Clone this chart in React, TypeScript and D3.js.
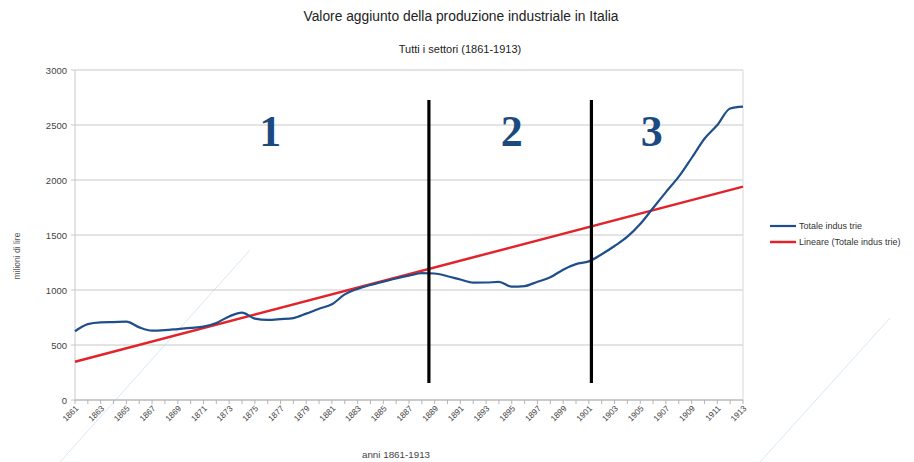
import React from "react";
import * as d3 from "d3";

const years: number[] = d3.range(1861, 1914);
const totale: number[] = [
  625, 690, 705, 708, 712, 660, 630, 635, 645, 655,
  667, 700, 760, 795, 740, 728, 735, 745, 785, 830,
  870, 960, 1010, 1045, 1076, 1105, 1130, 1153, 1150, 1125,
  1095, 1067, 1068, 1073, 1030, 1036, 1075, 1115, 1185, 1235,
  1260, 1325, 1400, 1485, 1600, 1745, 1890, 2030, 2200, 2375,
  2500, 2650, 2667,
];
const trendYears: number[] = [1861, 1913];
const trendValues: number[] = [348, 1940];
const yTicks: number[] = [0, 500, 1000, 1500, 2000, 2500, 3000];
const dividerYears: number[] = [1888.55, 1901.2];
const dividerRange: number[] = [155, 2727];
const phaseLabels: string[] = ["1", "2", "3"];
const phaseYears: number[] = [1876.2, 1895, 1905.9];
const phaseValue = 2300;
const legendLabels: string[] = ["Totale indus trie", "Lineare (Totale indus trie)"];

const W = 914, H = 462;
const L = 75, R = 743, T = 70, B = 400;

export default function App() {
  const x = d3.scaleLinear().domain([1861, 1913]).range([L, R]);
  const y = d3.scaleLinear().domain([0, 3000]).range([B, T]);
  const line = d3
    .line<number>()
    .x((_, i) => x(years[i]))
    .y((d) => y(d))
    .curve(d3.curveMonotoneX);
  const trendLine = d3
    .line<number>()
    .x((_, i) => x(trendYears[i]))
    .y((d) => y(d));
  const font = "'Liberation Sans', Arial, sans-serif";
  return (
    <svg width={W} height={H} style={{ position: "absolute", left: 0, top: 0, background: "#fff" }}>
      {/* faint watermark lines */}
      <g stroke="#cfe3f5" strokeWidth={1} opacity={0.8}>
        <line x1={60} y1={462} x2={250} y2={250} />
        <line x1={760} y1={462} x2={890} y2={318} />
      </g>
      <text x={461} y={21} textAnchor="middle" fontFamily={font} fontSize={13.8} fill="#222">
        Valore aggiunto della produzione industriale in Italia
      </text>
      <text x={460} y={53} textAnchor="middle" fontFamily={font} fontSize={11} fill="#222">
        Tutti i settori (1861-1913)
      </text>
      {/* gridlines */}
      {yTicks.map((t) => (
        <g key={t}>
          <line x1={L - 4} x2={R} y1={y(t)} y2={y(t)} stroke="#c8c8c8" strokeWidth={1} />
          <text x={L - 8} y={y(t) + 3.5} textAnchor="end" fontFamily={font} fontSize={9.5} fill="#444">
            {t}
          </text>
        </g>
      ))}
      <line x1={L} x2={L} y1={T} y2={B} stroke="#c8c8c8" />
      <line x1={R} x2={R} y1={T} y2={B} stroke="#d8d8d8" />
      <line x1={L} x2={R} y1={B} y2={B} stroke="#b3b3b3" />
      {years.map((yr) => (
        <line key={yr} x1={x(yr)} x2={x(yr)} y1={B} y2={B + 4} stroke="#b3b3b3" />
      ))}
      {years
        .filter((yr) => (yr - 1861) % 2 === 0)
        .map((yr) => (
          <text
            key={yr}
            transform={`translate(${x(yr) + 4},${B + 9}) rotate(-45)`}
            textAnchor="end"
            fontFamily={font}
            fontSize={8.3}
            fill="#444"
          >
            {yr}
          </text>
        ))}
      <text x={396} y={458} textAnchor="middle" fontFamily={font} fontSize={9.8} fill="#444">
        anni 1861-1913
      </text>
      <text
        transform={`translate(20,256) rotate(-90)`}
        textAnchor="middle"
        fontFamily={font}
        fontSize={8.5}
        fill="#555"
      >
        milioni di lire
      </text>
      {/* data */}
      <path d={trendLine(trendValues) || ""} fill="none" stroke="#e3232b" strokeWidth={2.5} />
      <path d={line(totale) || ""} fill="none" stroke="#1f4f8b" strokeWidth={2.2} />
      {/* dividers */}
      {dividerYears.map((dy) => (
        <line
          key={dy}
          x1={x(dy)}
          x2={x(dy)}
          y1={y(dividerRange[1])}
          y2={y(dividerRange[0])}
          stroke="#000"
          strokeWidth={3.2}
        />
      ))}
      {phaseLabels.map((p, i) => (
        <text
          key={p}
          x={x(phaseYears[i])}
          y={y(phaseValue) - 1}
          textAnchor="middle"
          fontFamily="'Liberation Serif', 'Times New Roman', serif"
          fontWeight="bold"
          fontSize={44}
          fill="#1b4a80"
        >
          {p}
        </text>
      ))}
      {/* legend */}
      <line x1={770} x2={796} y1={226} y2={226} stroke="#1f4f8b" strokeWidth={2.2} />
      <text x={799} y={229} fontFamily={font} fontSize={9} fill="#333">
        {legendLabels[0]}
      </text>
      <line x1={770} x2={796} y1={242} y2={242} stroke="#e3232b" strokeWidth={2.5} />
      <text x={799} y={245} fontFamily={font} fontSize={9} fill="#333">
        {legendLabels[1]}
      </text>
    </svg>
  );
}
